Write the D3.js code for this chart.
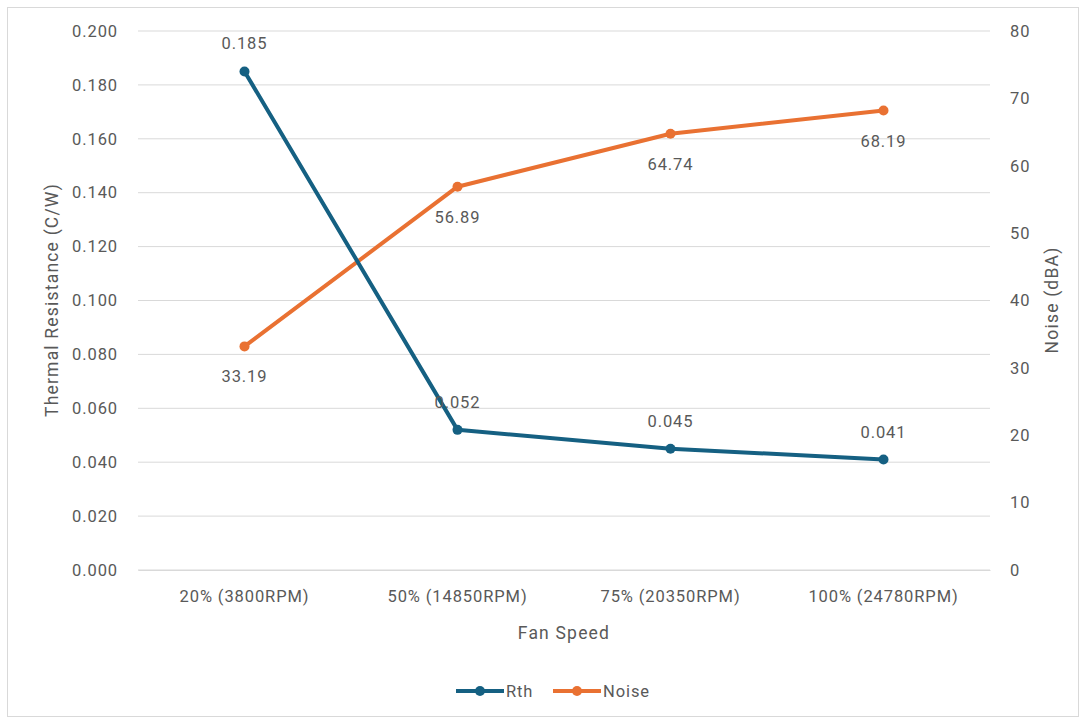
<!DOCTYPE html>
<html><head><meta charset="utf-8">
<script src="https://cdn.jsdelivr.net/npm/d3@7"></script>
<style>body{margin:0;background:#fff}svg{display:block}text{font-family:Roboto,"Open Sans",sans-serif;fill:#595959;letter-spacing:0.9px}</style>
</head><body><svg id="c" width="1086" height="724"></svg>
<script>
const categories = ["20% (3800RPM)", "50% (14850RPM)", "75% (20350RPM)", "100% (24780RPM)"];
const rth = [0.185, 0.052, 0.045, 0.041];
const noise = [33.19, 56.89, 64.74, 68.19];
const leftTicks = [0,0.02,0.04,0.06,0.08,0.10,0.12,0.14,0.16,0.18,0.20];
const rightTicks = [0,10,20,30,40,50,60,70,80];
const rthLabels = ["0.185","0.052","0.045","0.041"];
const noiseLabels = ["33.19","56.89","64.74","68.19"];

const svg = d3.select("#c");
const FS = 16.5;
svg.append("rect").attr("x",7.5).attr("y",7.5).attr("width",1071).attr("height",709).attr("fill","#fff").attr("stroke","#d9d9d9");

const x = d3.scaleBand().domain(categories).range([138,990]);
const yL = d3.scaleLinear().domain([0,0.2]).range([570,31]);
const yR = d3.scaleLinear().domain([0,80]).range([570,31]);
const cx = c => x(c)+x.bandwidth()/2;

svg.append("g").selectAll("line").data(leftTicks).join("line")
  .attr("x1",138).attr("x2",990).attr("y1",d=>yL(d)).attr("y2",d=>yL(d))
  .attr("stroke","#d9d9d9").attr("stroke-width",1);

const gL = svg.append("g").attr("transform","translate(138,0)")
  .call(d3.axisLeft(yL).tickValues(leftTicks).tickFormat(d3.format(".3f")).tickSize(0).tickPadding(20));
gL.select(".domain").remove();
gL.selectAll("text").attr("font-size",FS).style("fill","#595959").style("font-family","Roboto");

const gR = svg.append("g").attr("transform","translate(990,0)")
  .call(d3.axisRight(yR).tickValues(rightTicks).tickFormat(d3.format("d")).tickSize(0).tickPadding(20));
gR.select(".domain").remove();
gR.selectAll("text").attr("font-size",FS).style("fill","#595959").style("font-family","Roboto");

const gX = svg.append("g").attr("transform","translate(0,570)")
  .call(d3.axisBottom(x).tickSize(0).tickPadding(20));
gX.select(".domain").attr("stroke","#d9d9d9");
gX.selectAll("text").attr("font-size",FS).style("fill","#595959").style("font-family","Roboto");

svg.append("text").attr("transform","translate(58,300) rotate(-90)").attr("text-anchor","middle").attr("font-size",17.5).style("letter-spacing","1.2px").text("Thermal Resistance (C/W)");
svg.append("text").attr("transform","translate(1058,300) rotate(-90)").attr("text-anchor","middle").attr("font-size",17.5).style("letter-spacing","1.2px").text("Noise (dBA)");
svg.append("text").attr("x",564).attr("y",639).attr("text-anchor","middle").attr("font-size",17.5).style("letter-spacing","1.2px").text("Fan Speed");

const blue="#156082", orange="#E97132";
const lineL = d3.line().x((d,i)=>cx(categories[i])).y(d=>yL(d));
const lineR = d3.line().x((d,i)=>cx(categories[i])).y(d=>yR(d));

svg.append("path").datum(noise).attr("d",lineR).attr("fill","none").attr("stroke",orange).attr("stroke-width",4).attr("stroke-linejoin","round");
svg.append("g").selectAll("circle").data(noise).join("circle").attr("cx",(d,i)=>cx(categories[i])).attr("cy",d=>yR(d)).attr("r",5).attr("fill",orange);

svg.append("path").datum(rth).attr("d",lineL).attr("fill","none").attr("stroke",blue).attr("stroke-width",4).attr("stroke-linejoin","round");
svg.append("g").selectAll("circle").data(rth).join("circle").attr("cx",(d,i)=>cx(categories[i])).attr("cy",d=>yL(d)).attr("r",5).attr("fill",blue);

svg.append("g").selectAll("text").data(rth).join("text")
  .attr("x",(d,i)=>cx(categories[i])).attr("y",d=>yL(d)-22).attr("text-anchor","middle").attr("font-size",FS).text((d,i)=>rthLabels[i]);
svg.append("g").selectAll("text").data(noise).join("text")
  .attr("x",(d,i)=>cx(categories[i])).attr("y",d=>yR(d)+36).attr("text-anchor","middle").attr("font-size",FS).text((d,i)=>noiseLabels[i]);

const leg = [{n:"Rth",c:blue,x:456},{n:"Noise",c:orange,x:553}];
const lg = svg.append("g");
leg.forEach(l=>{
  lg.append("line").attr("x1",l.x).attr("x2",l.x+48).attr("y1",691).attr("y2",691).attr("stroke",l.c).attr("stroke-width",4);
  lg.append("circle").attr("cx",l.x+24).attr("cy",691).attr("r",5).attr("fill",l.c);
  lg.append("text").attr("x",l.x+50).attr("y",697).attr("font-size",FS).text(l.n);
});
</script></body></html>
